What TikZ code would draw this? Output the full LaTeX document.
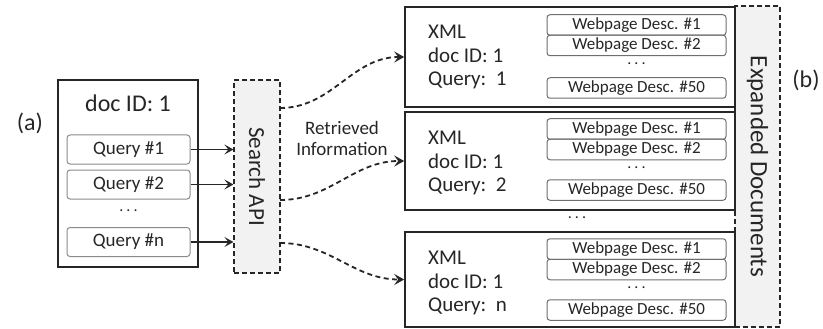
\documentclass[tikz,border=0pt]{standalone}
\usepackage{fontspec}
\setmainfont{Carlito}
\usetikzlibrary{arrows.meta,positioning}
\definecolor{ink}{HTML}{262626}
\definecolor{framegray}{HTML}{8A8A8A}
\definecolor{panelgray}{HTML}{F2F2F2}
\newcommand{\fsz}[1]{\fontsize{#1}{#1}\selectfont}
\newcommand{\tridots}{.\hspace{3pt}.\hspace{3pt}.}

\begin{document}
\begin{tikzpicture}[x=1pt,y=-1pt,
	every node/.style={text=ink},
	docframe/.style={draw=ink,line width=1.6pt,minimum width=330,inner sep=0},
	querybox/.style={draw=framegray,line width=1pt,rounded corners=3pt,minimum width=123,minimum height=29,inner sep=0,font=\fsz{19}},
	pagebox/.style={draw=framegray!80!black,line width=1pt,rounded corners=3pt,minimum width=179,minimum height=20.5,inner sep=0,font=\fsz{17}},
	dashpanel/.style={draw=ink,fill=panelgray,line width=1.2pt,dash pattern=on 5pt off 3pt,inner sep=0},
	meta/.style={anchor=west,align=left,inner sep=0,font=\fontsize{21}{23.5}\selectfont},
	smalldots/.style={inner sep=0,font=\fsz{16}},
	arr/.style={draw=ink,line width=1.4pt,-{Stealth[length=9pt,width=10pt,inset=4pt]}},
	darr/.style={draw=ink,line width=1.8pt,dash pattern=on 5pt off 3.5pt,-{Stealth[length=10pt,width=11pt,inset=4pt]}}]
	\useasboundingbox (0,0) rectangle (823,329);
	
	% Исходный документ
	\node[draw=ink,line width=1.6pt,minimum width=140,minimum height=187,inner sep=0] (src) at (128,173.5) {};
	\node[font=\fsz{24}] (lbla) at (30,123) {(a)};
	\node[font=\fsz{24}] (srcid) at (128,103) {doc ID: 1};
	\node[querybox] (q1) at (128.5,149.5) {Query \#1};
	\node[querybox] (q2) at (128.5,184.5) {Query \#2};
	\node[smalldots] (qdots) at (128.5,211) {\tridots};
	\node[querybox] (qn) at (128.5,242) {Query \#n};
	
	% Search API
	\node[dashpanel,minimum width=46,minimum height=193] (api) at (257,176.5) {};
	\node[rotate=-90,font=\fsz{23}] (apitext) at (api) {Search API};
	\draw[arr] (q1.east) -- (q1.east -| api.west);
	\draw[arr] (q2.east) -- (q2.east -| api.west);
	\draw[arr] (qn.east) -- (qn.east -| api.west);
	
	% Expanded Documents
	\node[dashpanel,minimum width=45,minimum height=321] (exp) at (757.5,166.5) {};
	\node[rotate=-90,font=\fsz{25}] (exptext) at (exp) {Expanded Documents};
	\node[font=\fsz{24}] (lblb) at (806,80) {(b)};
	
	% Документ 1
	\node[docframe,minimum height=100] (d1) at (570,57) {};
	\node[meta] (m1) at (428,57) {XML\\doc ID: 1\\Query:\ \ 1};
	\node[pagebox] (w11) at (636.5,25) {Webpage Desc. \#1};
	\node[pagebox] (w12) at (636.5,45.5) {Webpage Desc. \#2};
	\node[smalldots] (w1dots) at (636.5,64) {\tridots};
	\node[pagebox] (w150) at (636.5,88) {Webpage Desc. \#50};
	
	% Документ 2
	\node[docframe,minimum height=98] (d2) at (570,161) {};
	\node[meta] (m2) at (428,163) {XML\\doc ID: 1\\Query:\ \ 2};
	\node[pagebox] (w21) at (636.5,129) {Webpage Desc. \#1};
	\node[pagebox] (w22) at (636.5,149.5) {Webpage Desc. \#2};
	\node[smalldots] (w2dots) at (636.5,168) {\tridots};
	\node[pagebox] (w250) at (636.5,190) {Webpage Desc. \#50};
	
	\node[smalldots] (ddots) at (577,218) {\tridots};
	
	% Документ n
	\node[docframe,minimum height=95] (d3) at (570,279.5) {};
	\node[meta] (m3) at (428,283) {XML\\doc ID: 1\\Query:\ \ n};
	\node[pagebox] (w31) at (636.5,249) {Webpage Desc. \#1};
	\node[pagebox] (w32) at (636.5,269.5) {Webpage Desc. \#2};
	\node[smalldots] (w3dots) at (636.5,288) {\tridots};
	\node[pagebox] (w350) at (636.5,310) {Webpage Desc. \#50};
	
	% Retrieved Information
	\coordinate (r1) at (280,108);
	\coordinate (r2) at (280,200);
	\coordinate (r3) at (280,243);
	\draw[darr] (r1) to[out=0,in=180] (d1.west);
	\draw[darr] (r2) to[out=0,in=180] (d2.west);
	\draw[darr] (r3) to[out=0,in=180] (d3.west);
	\node[align=center,font=\fontsize{19}{21}\selectfont] (retr) at (342,138) {Retrieved\\Information};
\end{tikzpicture}
\end{document}
